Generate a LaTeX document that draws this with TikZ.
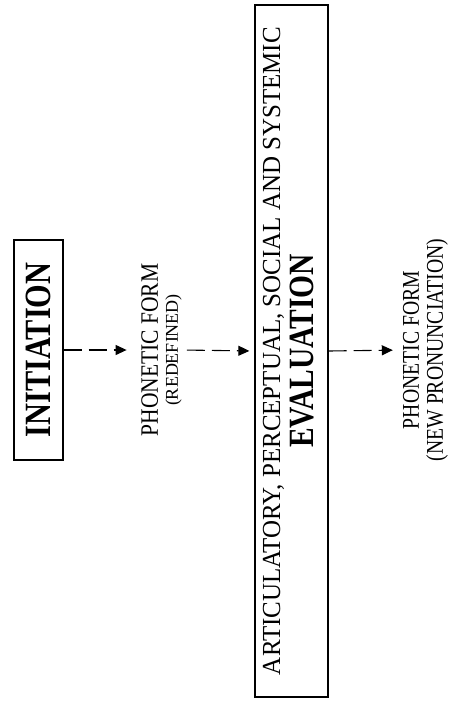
\documentclass[tikz,border=0pt]{standalone}
\usepackage{fontspec}
\setmainfont{Liberation Serif}
\usepackage{graphicx}
\usetikzlibrary{arrows.meta}
\begin{document}
\begin{tikzpicture}[x=1pt,y=-1pt,
  framebox/.style={draw, line width=1.3pt, rotate=90, inner sep=0pt},
  lbl/.style={rotate=90, align=center, inner sep=0pt},
  flow/.style={line width=1.1pt, dash pattern=on 18pt off 7pt, -{Triangle[length=11pt,width=10pt]}}]
\useasboundingbox (0,0) rectangle (449,702);
\node[framebox, minimum width=220pt, minimum height=49pt] (init) at (38.5,350)
  {\fontsize{37}{37}\selectfont\bfseries\scalebox{0.82}[1]{INITIATION}};
\node[lbl, font=\fontsize{25}{20}\selectfont] (ph1) at (161.5,350)
  {\scalebox{0.86}[1]{PHONETIC FORM}\\{\fontsize{18}{20}\selectfont(REDEFINED)}};
\node[framebox, minimum width=692pt, minimum height=73pt, align=center,
      font=\fontsize{26}{33}\selectfont] (eval) at (291.5,351)
  {\scalebox{0.96}[1]{ARTICULATORY, PERCEPTUAL, SOCIAL AND SYSTEMIC}\\
   {\fontsize{35.5}{33}\selectfont\bfseries\scalebox{0.83}[1]{EVALUATION}}\rule[-7pt]{0pt}{7pt}};
\node[lbl, font=\fontsize{24}{24}\selectfont] (ph2) at (425.5,350)
  {\scalebox{0.82}[1]{PHONETIC FORM}\\\scalebox{0.82}[1]{(NEW PRONUNCIATION)}};
\draw[flow, shorten >=14.5pt] (init.south) -- (ph1.north);
\draw[flow, shorten <=5pt, shorten >=5pt] (ph1.south) -- (eval.north);
\draw[flow, shorten >=10pt] (eval.south) -- (ph2.north);
\end{tikzpicture}
\end{document}
